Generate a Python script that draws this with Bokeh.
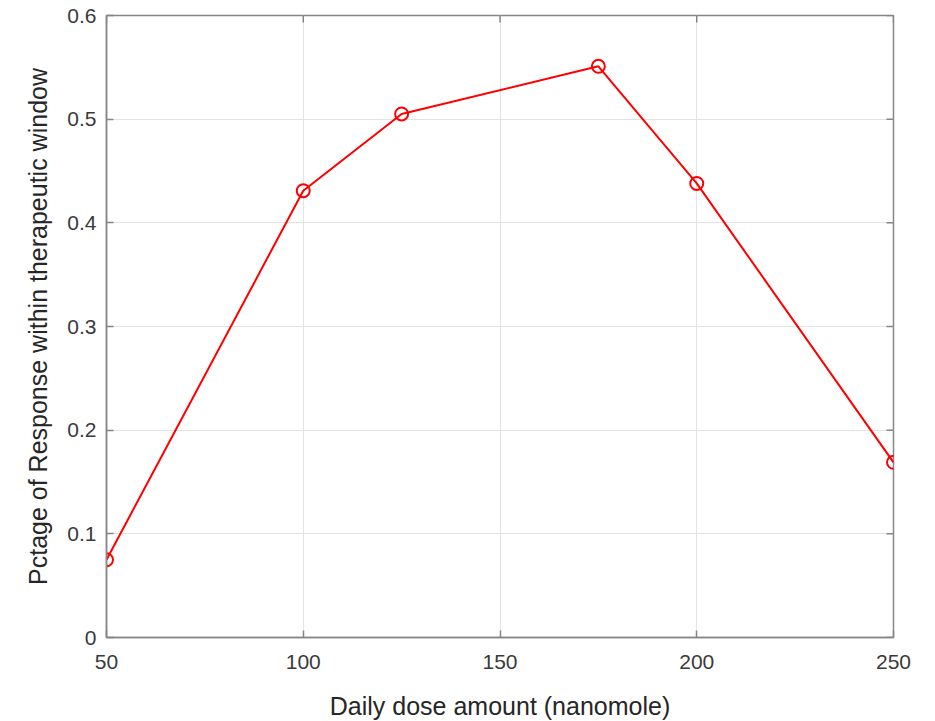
import math
from bokeh.plotting import figure
from bokeh.models import FixedTicker, Range1d
from bokeh.embed import file_html
from bokeh.resources import INLINE

dose = [50, 100, 125, 175, 200, 250]
response = [0.075, 0.431, 0.505, 0.551, 0.438, 0.169]
x_ticks = [50, 100, 150, 200, 250]
y_ticks = [0, 0.1, 0.2, 0.3, 0.4, 0.5, 0.6]
x_lo, x_hi = 50, 250
y_lo, y_hi = 0, 0.6

FONT = "Liberation Sans"
AX = "#868686"
TXT = "#3a3a3a"

p = figure(width=935, height=721, output_backend="svg", toolbar_location=None,
           x_range=Range1d(x_lo, x_hi), y_range=Range1d(y_lo, y_hi),
           frame_width=787, frame_height=622,
           min_border_left=106, min_border_right=42, min_border_top=15, min_border_bottom=84,
           x_axis_label="Daily dose amount (nanomole)",
           y_axis_label="Pctage of Response within therapeutic window")
p.outline_line_color = AX
p.outline_line_width = 1.5
p.background_fill_color = "white"
p.border_fill_color = "white"

for ax, ticks in ((p.xaxis[0], x_ticks), (p.yaxis[0], y_ticks)):
    ax.ticker = FixedTicker(ticks=ticks)
    ax.axis_line_color = AX
    ax.axis_line_width = 1.5
    ax.major_tick_line_color = AX
    ax.major_tick_line_width = 1.5
    ax.major_tick_in = 7
    ax.major_tick_out = 0
    ax.minor_tick_line_color = None
    ax.major_label_text_font = FONT
    ax.major_label_text_font_size = "21px"
    ax.major_label_text_color = TXT
    ax.axis_label_text_font = FONT
    ax.axis_label_text_font_size = "25px"
    ax.axis_label_text_font_style = "normal"
    ax.axis_label_text_color = "#262626"

p.xaxis[0].major_label_standoff = 17
p.yaxis[0].major_label_standoff = 10
p.xaxis[0].axis_label_standoff = 20
p.yaxis[0].axis_label_standoff = 12

p.xgrid[0].ticker = FixedTicker(ticks=x_ticks)
p.ygrid[0].ticker = FixedTicker(ticks=y_ticks)
for g in (p.xgrid[0], p.ygrid[0]):
    g.grid_line_color = "#e3e3e3"
    g.grid_line_width = 1

# inward tick marks on the top and right edges of the box
p.scatter(x_ticks, [y_hi] * len(x_ticks), marker="dash", size=14, angle=math.pi / 2,
          line_color=AX, line_width=1.5)
p.scatter([x_hi] * len(y_ticks), y_ticks, marker="dash", size=14,
          line_color=AX, line_width=1.5)

p.line(dose, response, line_color="#ff0000", line_width=2)
p.scatter(dose, response, marker="circle", size=13, fill_color=None,
          line_color="#ff0000", line_width=2)

open("out.html", "w").write(file_html(p, INLINE))
